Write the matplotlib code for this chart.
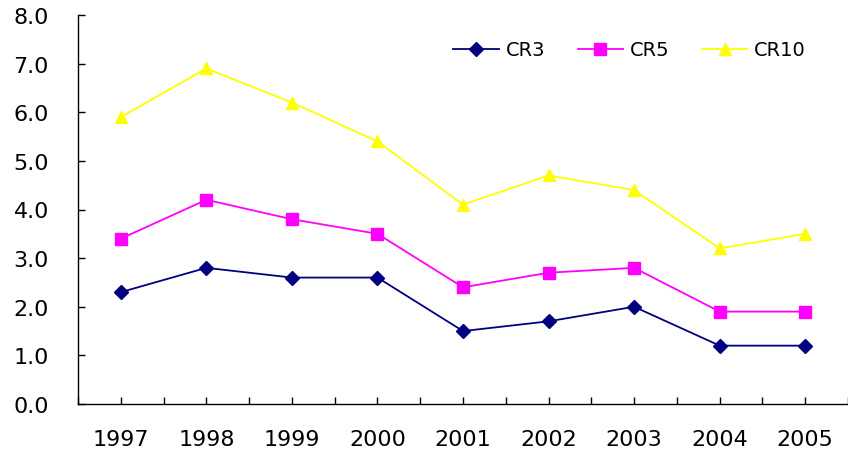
import matplotlib
matplotlib.use("Agg")
import matplotlib.pyplot as plt

years = ["1997", "1998", "1999", "2000", "2001", "2002", "2003", "2004", "2005"]
cr3 = [2.3, 2.8, 2.6, 2.6, 1.5, 1.7, 2.0, 1.2, 1.2]
cr5 = [3.4, 4.2, 3.8, 3.5, 2.4, 2.7, 2.8, 1.9, 1.9]
cr10 = [5.9, 6.9, 6.2, 5.4, 4.1, 4.7, 4.4, 3.2, 3.5]
yticks = [0, 1, 2, 3, 4, 5, 6, 7, 8]

plt.rcParams['font.family'] = ['DejaVu Sans']

fig = plt.figure(figsize=(8.48, 4.52), dpi=100)
W, H = 848, 452
ax = fig.add_axes([78 / W, 1 - 405 / H, (848 - 78) / W, (405 - 16) / H])

x = list(range(len(years)))
ax.plot(x, cr3, color="#000080", marker="D", markersize=7, lw=1.3, label="CR3")
ax.plot(x, cr5, color="#FF00FF", marker="s", markersize=8, lw=1.3, label="CR5")
ax.plot(x, cr10, color="#FFFF00", marker="^", markersize=8.5, lw=1.3, label="CR10")

ax.set_xlim(-0.5, 8.43)
ax.set_ylim(0, 8)
ax.set_yticks(yticks)
ax.set_yticklabels([f"{v:.1f}" for v in yticks], fontsize=16)
ax.set_xticks(x)
ax.set_xticklabels(years, fontsize=16)
ax.set_xticks([i + 0.5 for i in range(-1, len(years))], minor=True)
ax.tick_params(axis="x", which="both", direction="in", length=5, width=1, pad=18)
ax.tick_params(axis="y", direction="in", length=5, width=1, pad=21)
for s in ["top", "right"]:
    ax.spines[s].set_visible(False)
for s in ["left", "bottom"]:
    ax.spines[s].set_linewidth(1)

ax.legend(loc="center right", bbox_to_anchor=(806 / W, 1 - 51 / H),
          bbox_transform=fig.transFigure, ncol=3, frameon=False,
          fontsize=14, handlelength=2.35, columnspacing=1.65, handletextpad=0.35,
          borderaxespad=0, borderpad=0)

fig.savefig("out.png", dpi=100)
